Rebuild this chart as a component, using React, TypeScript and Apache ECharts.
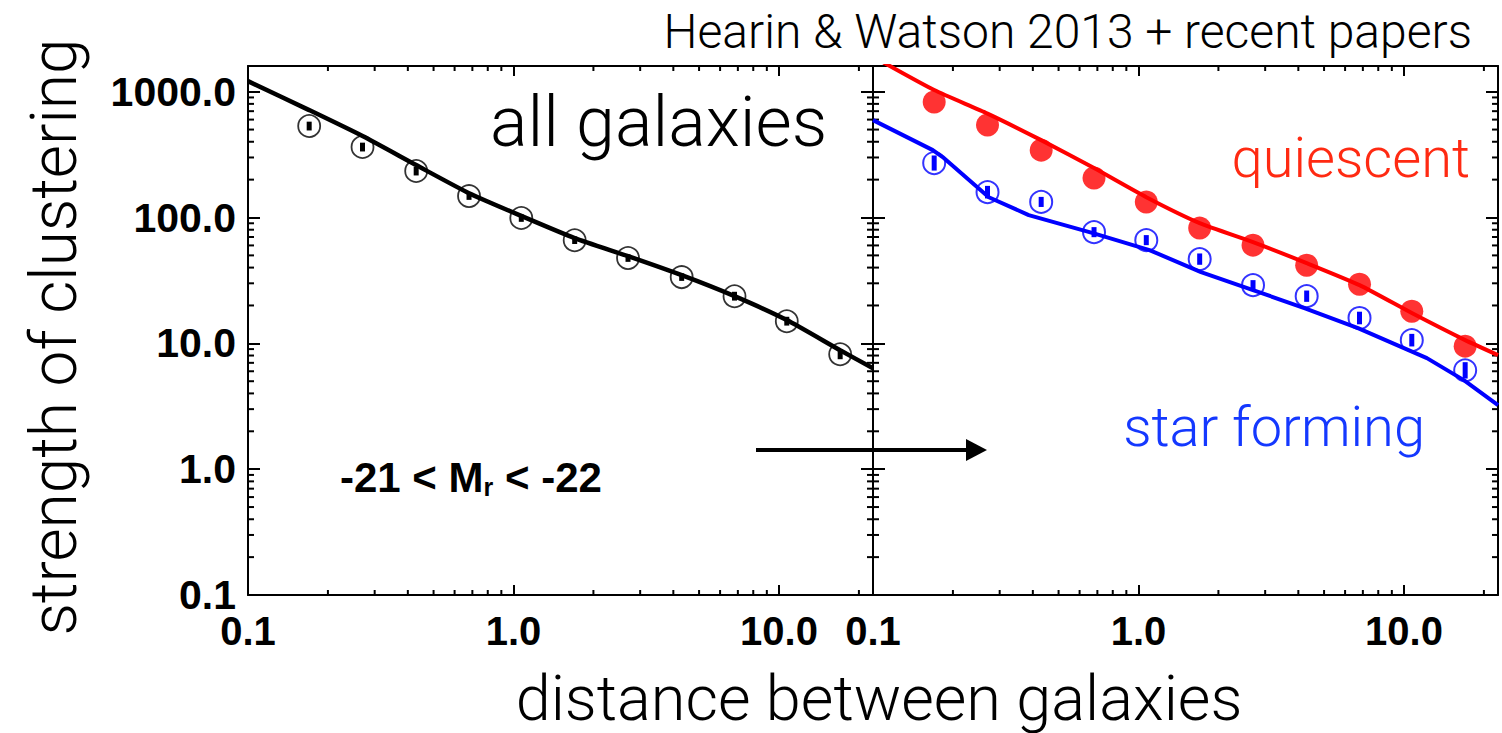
import React, { useEffect, useRef } from "react";
import * as echarts from "echarts";

// Separations at which clustering was measured (same bins for every sample)
const separations = [0.17, 0.27, 0.43, 0.68, 1.07, 1.7, 2.7, 4.3, 6.8, 10.7, 17.0];

// All galaxies: measurements and half-widths of the error bars (dex)
const allGalaxies = [533, 363, 234, 148, 99, 66, 47.6, 33.6, 23.7, 15.0, 8.2];
const allGalaxiesErr = [0.035, 0.035, 0.035, 0.03, 0.03, 0.03, 0.03, 0.03, 0.035, 0.035, 0.04];
const allModelX = [0.1, 0.17, 0.27, 0.43, 0.68, 1.07, 1.7, 2.7, 4.3, 6.8, 10.7, 17.0, 22.6];
const allModelY = [1213, 714, 444, 261, 156, 103, 68.6, 49.3, 34.8, 23.7, 15.3, 8.8, 6.35];

// Quiescent galaxies
const quiescent = [827, 543, 343, 206, 133, 82.4, 60.3, 41.8, 29.5, 18.0, 9.5];
const quiescentModelX = [0.1, 0.17, 0.27, 0.43, 0.68, 1.07, 1.7, 2.7, 4.3, 6.8, 10.7, 17.0, 22.6];
const quiescentModelY = [1900, 1030, 670, 412, 247, 145, 90.2, 63.7, 43.4, 29.0, 17.4, 10.6, 8.06];

// Star-forming galaxies
const starForming = [271, 159, 133, 76.5, 66.1, 46.7, 29.0, 23.7, 15.9, 10.6, 6.1];
const starFormingErr = [0.06, 0.05, 0.04, 0.04, 0.04, 0.045, 0.04, 0.045, 0.05, 0.05, 0.065];
const starFormingModelX = [0.1, 0.168, 0.183, 0.273, 0.386, 0.674, 1.1, 1.72, 2.7, 4.24, 6.71, 12.2, 16.8, 22.6];
const starFormingModelY = [594, 343, 302, 145, 104.5, 75.2, 55.1, 36.8, 26.5, 19.0, 13.2, 7.63, 5.1, 3.23];

// Axis ranges and logarithmic minor tick positions
const X_MIN = 0.1;
const X_MAX = 22.6;
const Y_MIN = 0.1;
const Y_MAX = 1600;
const xMinorTicks = [0.2, 0.3, 0.4, 0.5, 0.6, 0.7, 0.8, 0.9, 2, 3, 4, 5, 6, 7, 8, 9, 20];
const yMinorTicks = [
  0.2, 0.3, 0.4, 0.5, 0.6, 0.7, 0.8, 0.9,
  2, 3, 4, 5, 6, 7, 8, 9,
  20, 30, 40, 50, 60, 70, 80, 90,
  200, 300, 400, 500, 600, 700, 800, 900,
];

const BOLD_FONT = '"Liberation Sans", Arial, Helvetica, sans-serif';
const LIGHT_FONT = 'Roboto, "Open Sans", Lato, sans-serif';

const decadeLabel = (v: number) => {
  const e = Math.log10(v);
  if (Math.abs(e - Math.round(e)) > 1e-6) return "";
  return Math.pow(10, Math.round(e)).toFixed(1);
};

function makeXAxis(gridIndex: number, position: "top" | "bottom") {
  return {
    type: "log",
    logBase: 10,
    gridIndex,
    position,
    min: X_MIN,
    max: X_MAX,
    axisLine: { show: true, onZero: false, lineStyle: { color: "#000", width: 2 } },
    axisTick: { show: true, inside: true, length: 10, lineStyle: { color: "#000", width: 2 } },
    axisLabel: {
      show: position === "bottom",
      formatter: decadeLabel,
      fontFamily: BOLD_FONT,
      fontWeight: "bold",
      fontSize: 40,
      color: "#000",
      margin: 16,
      showMaxLabel: false,
    },
    splitLine: { show: false },
  };
}

function makeYAxis(gridIndex: number, position: "left" | "right", showLabel: boolean) {
  return {
    type: "log",
    logBase: 10,
    gridIndex,
    position,
    min: Y_MIN,
    max: Y_MAX,
    axisLine: { show: true, onZero: false, lineStyle: { color: "#000", width: 2 } },
    axisTick: { show: true, inside: true, length: 12, lineStyle: { color: "#000", width: 2 } },
    axisLabel: {
      show: showLabel,
      formatter: decadeLabel,
      fontFamily: BOLD_FONT,
      fontWeight: "bold",
      fontSize: 41,
      color: "#000",
      margin: 12,
      showMaxLabel: false,
    },
    splitLine: { show: false },
  };
}

// Minor ticks along the left and right frame of a panel
function yMinorSeries(xAxisIndex: number, yAxisIndex: number) {
  return {
    type: "custom",
    xAxisIndex,
    yAxisIndex,
    silent: true,
    clip: false,
    data: yMinorTicks.map((v) => [1, v]),
    renderItem: (params: any, api: any) => {
      const cs = params.coordSys;
      const y = api.coord([1, api.value(1)])[1];
      const st = { stroke: "#000", lineWidth: 2 };
      return {
        type: "group",
        children: [
          { type: "line", shape: { x1: cs.x, y1: y, x2: cs.x + 6, y2: y }, style: st },
          { type: "line", shape: { x1: cs.x + cs.width - 6, y1: y, x2: cs.x + cs.width, y2: y }, style: st },
        ],
      };
    },
  };
}

// Minor ticks along the top and bottom frame of a panel
function xMinorSeries(xAxisIndex: number, yAxisIndex: number) {
  return {
    type: "custom",
    xAxisIndex,
    yAxisIndex,
    silent: true,
    clip: false,
    data: xMinorTicks.map((v) => [v, 1]),
    renderItem: (params: any, api: any) => {
      const cs = params.coordSys;
      const x = api.coord([api.value(0), 1])[0];
      const st = { stroke: "#000", lineWidth: 2 };
      return {
        type: "group",
        children: [
          { type: "line", shape: { x1: x, y1: cs.y, x2: x, y2: cs.y + 5 }, style: st },
          { type: "line", shape: { x1: x, y1: cs.y + cs.height - 5, x2: x, y2: cs.y + cs.height }, style: st },
        ],
      };
    },
  };
}

function errorBarSeries(
  xAxisIndex: number,
  yAxisIndex: number,
  values: number[],
  errs: number[],
  color: string
) {
  return {
    type: "custom",
    xAxisIndex,
    yAxisIndex,
    silent: true,
    z: 4,
    data: values.map((v, i) => [separations[i], v / Math.pow(10, errs[i]), v * Math.pow(10, errs[i])]),
    encode: { x: 0, y: [1, 2] },
    renderItem: (_params: any, api: any) => {
      const lo = api.coord([api.value(0), api.value(1)]);
      const hi = api.coord([api.value(0), api.value(2)]);
      return {
        type: "rect",
        shape: { x: lo[0] - 2.5, y: hi[1], width: 5, height: lo[1] - hi[1] },
        style: { fill: color },
      };
    },
  };
}

const pairs = (xs: number[], ys: number[]) => xs.map((x, i) => [x, ys[i]]);

export default function App() {
  const ref = useRef<HTMLDivElement>(null);

  useEffect(() => {
    if (!ref.current) return;
    const chart = echarts.init(ref.current, undefined, { renderer: "svg" });

    const option = {
      animation: false,
      backgroundColor: "#fff",
      grid: [
        { left: 248, top: 66, width: 625, height: 529 },
        { left: 873, top: 66, width: 625, height: 529 },
      ],
      xAxis: [makeXAxis(0, "bottom"), makeXAxis(0, "top"), makeXAxis(1, "bottom"), makeXAxis(1, "top")],
      yAxis: [
        makeYAxis(0, "left", true),
        makeYAxis(0, "right", false),
        makeYAxis(1, "left", false),
        makeYAxis(1, "right", false),
      ],
      series: [
        yMinorSeries(0, 0),
        xMinorSeries(0, 0),
        yMinorSeries(2, 2),
        xMinorSeries(2, 2),
        // all galaxies
        {
          type: "line",
          xAxisIndex: 0,
          yAxisIndex: 0,
          data: pairs(allModelX, allModelY),
          showSymbol: false,
          smooth: 0.2,
          lineStyle: { color: "#000", width: 4.5 },
          z: 3,
        },
        {
          type: "scatter",
          xAxisIndex: 0,
          yAxisIndex: 0,
          data: pairs(separations, allGalaxies),
          symbol: "circle",
          symbolSize: 22,
          itemStyle: { color: "rgba(0,0,0,0)", borderColor: "#000", borderWidth: 1.8 },
          z: 4,
        },
        errorBarSeries(0, 0, allGalaxies, allGalaxiesErr, "#000"),
        // quiescent
        {
          type: "line",
          xAxisIndex: 2,
          yAxisIndex: 2,
          data: pairs(quiescentModelX, quiescentModelY),
          showSymbol: false,
          smooth: 0.2,
          clip: true,
          lineStyle: { color: "#ff0000", width: 4 },
          z: 3,
        },
        {
          type: "scatter",
          xAxisIndex: 2,
          yAxisIndex: 2,
          data: pairs(separations, quiescent),
          symbol: "circle",
          symbolSize: 23,
          itemStyle: { color: "#ff0000" },
          z: 4,
        },
        // star forming
        {
          type: "line",
          xAxisIndex: 2,
          yAxisIndex: 2,
          data: pairs(starFormingModelX, starFormingModelY),
          showSymbol: false,
          clip: true,
          lineStyle: { color: "#0000ff", width: 4 },
          z: 3,
        },
        {
          type: "scatter",
          xAxisIndex: 2,
          yAxisIndex: 2,
          data: pairs(separations, starForming),
          symbol: "circle",
          symbolSize: 22,
          itemStyle: { color: "rgba(0,0,0,0)", borderColor: "#0000ff", borderWidth: 2 },
          z: 4,
        },
        errorBarSeries(2, 2, starForming, starFormingErr, "#0000ff"),
      ],
      graphic: [
        {
          type: "text",
          x: 1472,
          y: 31,
          style: {
            text: "Hearin & Watson 2013 + recent papers",
            fontFamily: LIGHT_FONT,
            fontWeight: 300,
            fontSize: 48,
            fill: "#000",
            align: "right",
            verticalAlign: "middle",
          },
        },
        {
          type: "text",
          x: 490,
          y: 122,
          style: {
            text: "all galaxies",
            fontFamily: LIGHT_FONT,
            fontWeight: 300,
            fontSize: 70,
            fill: "#000",
            align: "left",
            verticalAlign: "middle",
          },
        },
        {
          type: "text",
          x: 1470,
          y: 158,
          style: {
            text: "quiescent",
            fontFamily: LIGHT_FONT,
            fontWeight: 300,
            fontSize: 56,
            fill: "#ff2a12",
            align: "right",
            verticalAlign: "middle",
          },
        },
        {
          type: "text",
          x: 1425,
          y: 427,
          style: {
            text: "star forming",
            fontFamily: LIGHT_FONT,
            fontWeight: 300,
            fontSize: 56,
            fill: "#1438ff",
            align: "right",
            verticalAlign: "middle",
          },
        },
        {
          type: "text",
          x: 340,
          y: 477,
          style: {
            text: "{b|-21 < M}{s|r}{b| < -22}",
            align: "left",
            verticalAlign: "middle",
            rich: {
              b: { fontFamily: BOLD_FONT, fontWeight: "bold", fontSize: 42, fill: "#000" },
              s: { fontFamily: BOLD_FONT, fontWeight: "bold", fontSize: 25, fill: "#000", padding: [20, 0, 0, 0] },
            },
          },
        },
        {
          type: "text",
          x: 879,
          y: 698,
          style: {
            text: "distance between galaxies",
            fontFamily: LIGHT_FONT,
            fontWeight: 300,
            fontSize: 63,
            fill: "#000",
            align: "center",
            verticalAlign: "middle",
          },
        },
        {
          type: "text",
          x: 54,
          y: 337,
          rotation: Math.PI / 2,
          style: {
            text: "strength of clustering",
            fontFamily: LIGHT_FONT,
            fontWeight: 300,
            fontSize: 64,
            fill: "#000",
            align: "center",
            verticalAlign: "middle",
          },
        },
        {
          type: "line",
          shape: { x1: 756, y1: 450, x2: 970, y2: 450 },
          style: { stroke: "#000", lineWidth: 4 },
          z: 10,
        },
        {
          type: "polygon",
          shape: { points: [[966, 439], [987, 450], [966, 461]] },
          style: { fill: "#000" },
          z: 10,
        },
      ],
    };

    chart.setOption(option as any);
    return () => chart.dispose();
  }, []);

  return (
    <div
      ref={ref}
      style={{ position: "absolute", left: 0, top: 0, width: 1502, height: 733, background: "#fff" }}
    />
  );
}
